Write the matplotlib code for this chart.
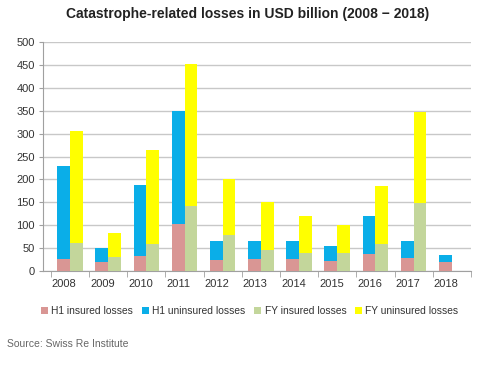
import numpy as np
import matplotlib.pyplot as plt

plt.rcParams['font.family'] = ['Liberation Sans', 'DejaVu Sans']

years = ['2008', '2009', '2010', '2011', '2012', '2013', '2014', '2015', '2016', '2017', '2018']
# totals, USD bn
h1_insured = [26, 19, 33, 102, 23, 26, 25, 21, 37, 28, 18]
h1_total = [230, 50, 188, 349, 65, 66, 64, 54, 120, 64, 35]
fy_insured = [60, 29, 58, 142, 79, 45, 39, 39, 58, 148, 0]
fy_total = [306, 83, 264, 453, 201, 150, 120, 101, 185, 348, 0]

h1_uninsured = np.array(h1_total) - np.array(h1_insured)
fy_uninsured = np.array(fy_total) - np.array(fy_insured)

pink = '#D99694'
blue = '#0AAEE8'
green = '#C3D69B'
yellow = '#FFFF00'

fig = plt.figure(figsize=(4.8, 3.67), dpi=100)
ax = fig.add_axes([0.0896, 0.2624, 0.8915, 0.6223])

x = np.arange(len(years))
w = 0.335
ax.bar(x - w / 2, h1_insured, w, color=pink, label='H1 insured losses', zorder=3)
ax.bar(x - w / 2, h1_uninsured, w, bottom=h1_insured, color=blue, label='H1 uninsured losses', zorder=3)
ax.bar(x + w / 2, fy_insured, w, color=green, label='FY insured losses', zorder=3)
ax.bar(x + w / 2, fy_uninsured, w, bottom=fy_insured, color=yellow, label='FY uninsured losses', zorder=3)

ax.set_xlim(-0.705, 10.07)
ax.set_ylim(0, 500)
ax.set_yticks(range(0, 501, 50))
ax.tick_params(axis='y', labelsize=8, length=3, color='#A0A0A0', pad=3, labelcolor='#333333')
ax.set_xticks(x - 0.15)
ax.set_xticklabels(years)
ax.tick_params(axis='x', labelsize=8, length=0, pad=6, labelcolor='#333333')
ax.set_xticks(np.arange(-0.5, 10.6, 1.0), minor=True)
ax.tick_params(axis='x', which='minor', length=4, color='#A0A0A0')

ax.grid(axis='y', color='#C8C8C8', linewidth=1, zorder=0)
for s in ['top', 'right']:
    ax.spines[s].set_visible(False)
ax.spines['left'].set_color('#A0A0A0')
ax.spines['bottom'].set_color('#A0A0A0')

fig.text(0.515, 0.963, 'Catastrophe-related losses in USD billion (2008 \u2212 2018)',
         ha='center', va='center', fontsize=10, fontweight='bold', color='#222222')

fig.legend(loc='center', bbox_to_anchor=(0.52, 0.152), ncol=4, frameon=False,
           fontsize=7.4, handlelength=0.7, handleheight=0.7, handletextpad=0.35,
           columnspacing=0.8, labelcolor='#333333')

fig.text(0.015, 0.063, 'Source: Swiss Re Institute', ha='left', va='center',
         fontsize=7.5, color='#666666')

fig.savefig('out.png', dpi=100)
